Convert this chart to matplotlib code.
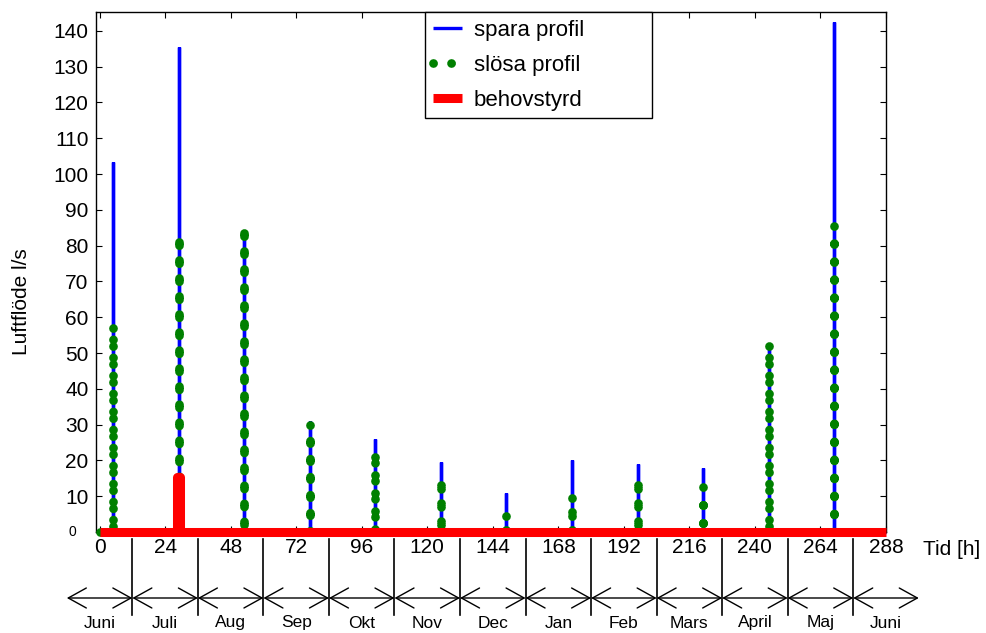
import numpy as np
import matplotlib
matplotlib.use('Agg')
import matplotlib.pyplot as plt
import matplotlib.transforms as mtransforms

plt.rcParams['font.family'] = ['Liberation Sans', 'DejaVu Sans']

# ---------------- data ----------------
x_ticks = [0, 24, 48, 72, 96, 120, 144, 168, 192, 216, 240, 264, 288]
y_ticks = [0, 10, 20, 30, 40, 50, 60, 70, 80, 90, 100, 110, 120, 130, 140]
month_labels = ['Juni', 'Juli', 'Aug', 'Sep', 'Okt', 'Nov', 'Dec',
                'Jan', 'Feb', 'Mars', 'April', 'Maj', 'Juni']
month_edges = [-12, 12, 36, 60, 84, 108, 132, 156, 180, 204, 228, 252, 276, 300]

spike_hours = [5, 29, 53, 77, 101, 125, 149, 173, 197, 221, 245, 269]
spara_peak = [103.5, 135.5, 83.5, 31.0, 26.0, 19.5, 11.0, 20.0, 19.0, 18.0, 52.0, 142.5]
slosa_peak = [57.0, 81.0, 83.5, 30.0, 21.0, 13.0, 4.5, 9.5, 13.0, 12.5, 52.0, 85.5]

behov_hours = list(range(0, 289))
behov_peak_hour = 29
behov_peak = 15.5
behov_values = [behov_peak if h == behov_peak_hour else 0.0 for h in behov_hours]

t_end = 288


def spike_series(hours, peaks, end):
    xs, ys = [0], [0.0]
    for h, p in zip(hours, peaks):
        xs += [h, h, h]
        ys += [0.0, p, 0.0]
    xs.append(end)
    ys.append(0.0)
    return xs, ys


# ---------------- figure ----------------
fig = plt.figure(figsize=(9.86, 6.33), dpi=100)
W, H = 986, 633
ax_l, ax_r, ax_t, ax_b = 95.5, 886, 12.3, 532
ax = fig.add_axes([ax_l / W, 1 - ax_b / H, (ax_r - ax_l) / W, (ax_b - ax_t) / H])

xb, yb = spike_series(spike_hours, spara_peak, t_end)

l_blue, = ax.plot(xb, yb, color='#0000ff', lw=2.4, solid_joinstyle='bevel',
                  solid_capstyle='butt', clip_on=False, zorder=2, label='spara profil')

green_style = dict(color='#008000', lw=6.3, linestyle=(0, (0.01, 2.05)),
                   dash_capstyle='round', dash_joinstyle='round', clip_on=False,
                   zorder=3)
l_green, = ax.plot([0, t_end], [0.0, 0.0], label='slösa profil', **green_style)
for h, p in zip(spike_hours, slosa_peak):
    # each spike drawn down from its peak and back up (dots on both strokes)
    ax.plot([h, h, h], [p, 0.0, p], **green_style)

l_red, = ax.plot(behov_hours, behov_values, drawstyle='steps-mid', color='#ff0000',
                 lw=6.5, solid_capstyle='butt', solid_joinstyle='round',
                 clip_on=False, zorder=4, label='behovstyrd')

ax.set_xlim(-1.5, 288)
ax.set_ylim(0, 145.2)
ax.set_xticks(x_ticks)
ax.set_xticklabels([str(v) for v in x_ticks])
ax.set_yticks(y_ticks)
ax.set_yticklabels(['' if v == 0 else str(v) for v in y_ticks])
ax.tick_params(direction='in', top=True, right=True, length=4, width=0.8,
               labelsize=15, colors='black')
ax.tick_params(axis='x', pad=4)
ax.tick_params(axis='y', pad=5)
for s in ax.spines.values():
    s.set_linewidth(1.0)
    s.set_color('black')

# small "0" label on y axis
ytrans = mtransforms.blended_transform_factory(ax.transAxes, ax.transData)
ax.text(-(95.5 - 72) / (ax_r - ax_l), y_ticks[0], '0', transform=ytrans,
        ha='center', va='center', fontsize=10)

# axis labels
fig.text(22 / W, 1 - 302 / H, 'Luftflöde l/s', rotation=90, ha='center',
         va='center', fontsize=15)
ax.text((923 - ax_l) / (ax_r - ax_l), (ax_b - 555) / (ax_b - ax_t), 'Tid [h]',
        transform=ax.transAxes, ha='left', va='baseline', fontsize=15)

# legend
leg = ax.legend(handles=[l_blue, l_green, l_red], loc='upper left',
                bbox_to_anchor=((425 - ax_l) / (ax_r - ax_l), 0.8,
                                227 / (ax_r - ax_l), 0.2),
                mode='expand', fontsize=16, frameon=True, fancybox=False,
                edgecolor='black', framealpha=1, borderpad=0.35, labelspacing=0.62,
                handlelength=1.3, handletextpad=0.55, borderaxespad=0)
leg.get_frame().set_linewidth(1.0)
leg.set_zorder(10)

# month annotation below axis
hgt = ax_b - ax_t
def fy(px):
    return (ax_b - px) / hgt

btrans = mtransforms.blended_transform_factory(ax.transData, ax.transAxes)
for xe in month_edges[1:-1]:
    ax.plot([xe, xe], [fy(539), fy(615)], transform=btrans, color='black',
            lw=1.2, clip_on=False)
for x0, x1 in zip(month_edges[:-1], month_edges[1:]):
    ax.annotate('', xy=(x1, fy(598)), xytext=(x0, fy(598)),
                xycoords=btrans, textcoords=btrans,
                arrowprops=dict(arrowstyle='<->,head_length=1.3,head_width=0.72',
                                mutation_scale=10, lw=1.0, color='black',
                                shrinkA=0, shrinkB=0),
                annotation_clip=False)
for xc, lab in zip(x_ticks, month_labels):
    ax.text(xc, fy(623), lab, transform=btrans, ha='center', va='center',
            fontsize=12.5)

fig.savefig('out.png', dpi=100)
